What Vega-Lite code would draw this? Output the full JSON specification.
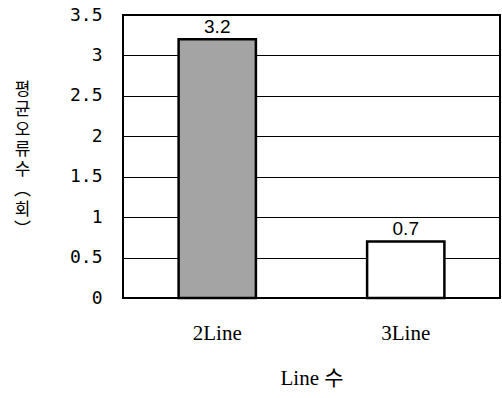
{
  "$schema": "https://vega.github.io/schema/vega-lite/v6.json",
  "width": 377,
  "height": 283,
  "autosize": "none",
  "padding": {"left": 123, "top": 15, "right": 2, "bottom": 100},
  "background": "white",
  "config": {
    "view": {"stroke": "black", "strokeWidth": 2},
    "font": "Liberation Serif"
  },
  "data": {"values": [
    {"line": "2Line", "errors": 3.2},
    {"line": "3Line", "errors": 0.7}
  ]},
  "encoding": {
    "x": {
      "field": "line", "type": "nominal",
      "scale": {"paddingInner": 0.59, "paddingOuter": 0.295},
      "axis": {
        "title": "Line 수", "labelAngle": 0, "domain": false, "ticks": false,
        "labelFont": "Liberation Serif", "labelFontSize": 21, "labelColor": "black",
        "labelPadding": 24,
        "titleFont": "Liberation Serif, Noto Sans CJK KR", "titleFontSize": 21, "titleFontWeight": "normal",
        "titleColor": "black", "titlePadding": 24
      }
    },
    "y": {
      "field": "errors", "type": "quantitative",
      "scale": {"domain": [0, 3.5]},
      "axis": {
        "title": ["평", "균", "오", "류", "수", "︵", "회", "︶"],
        "titleAngle": 0, "titleAlign": "center", "titleBaseline": "middle",
        "titleX": -101, "titleY": 74, "titleLineHeight": 20,
        "values": [0, 0.5, 1, 1.5, 2, 2.5, 3, 3.5],
        "format": "~g",
        "grid": true, "gridColor": "black", "gridWidth": 1, "gridOpacity": 1,
        "domain": false, "ticks": false,
        "labelFont": "DejaVu Sans Mono", "labelFontSize": 18, "labelColor": "black",
        "labelPadding": 21,
        "titleFont": "Noto Sans CJK KR", "titleFontSize": 17, "titleFontWeight": "normal",
        "titleColor": "black"
      }
    }
  },
  "layer": [
    {
      "mark": {"type": "bar", "stroke": "black", "strokeWidth": 2.5},
      "encoding": {
        "color": {"field": "line", "type": "nominal", "legend": null,
          "scale": {"domain": ["2Line", "3Line"], "range": ["#a4a4a4", "#ffffff"]}}
      }
    },
    {
      "mark": {"type": "text", "baseline": "bottom", "dy": -2, "fontSize": 19, "font": "Liberation Sans", "color": "black"},
      "encoding": {"text": {"field": "errors", "type": "quantitative", "format": ".1f"}}
    }
  ]
}
